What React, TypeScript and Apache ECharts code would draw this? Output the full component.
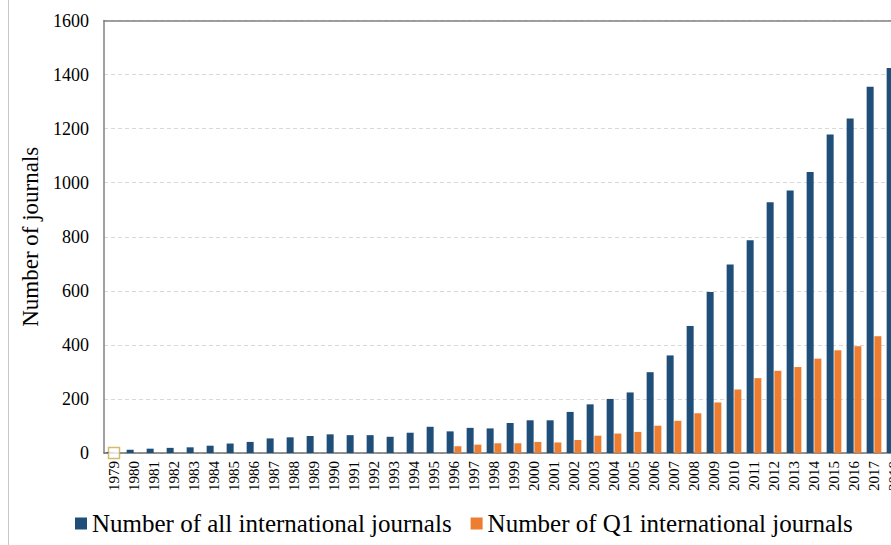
import React, { useEffect, useRef } from "react";
import * as echarts from "echarts";

const years: string[] = [
  "1979","1980","1981","1982","1983","1984","1985","1986","1987","1988",
  "1989","1990","1991","1992","1993","1994","1995","1996","1997","1998",
  "1999","2000","2001","2002","2003","2004","2005","2006","2007","2008",
  "2009","2010","2011","2012","2013","2014","2015","2016","2017","2018",
];

const allJournals: number[] = [
  4, 12, 16, 19, 21, 27, 35, 41, 54, 58,
  63, 69, 66, 66, 60, 75, 97, 80, 93, 91,
  111, 121, 121, 152, 180, 200, 224, 299, 361, 470,
  596, 697, 787, 928, 971, 1040, 1178, 1237, 1355, 1424,
];

const q1Journals: (number | null)[] = [
  null, null, null, null, null, null, null, null, null, null,
  null, null, null, null, null, null, null, 25, 31, 36,
  36, 41, 39, 48, 64, 72, 78, 101, 119, 147,
  187, 235, 277, 304, 318, 349, 380, 395, 432, 460,
];

const yTicks = { min: 0, max: 1600, interval: 200 };

const FONT = "'Liberation Serif', 'Times New Roman', serif";

const CHART_W = 920;

export default function App() {
  const ref = useRef<HTMLDivElement>(null);
  useEffect(() => {
    if (!ref.current) return;
    const chart = echarts.init(ref.current, undefined, { renderer: "svg" });
    chart.setOption({
      animation: false,
      backgroundColor: "#ffffff",
      graphic: [
        {
          type: "line",
          shape: { x1: 8.5, y1: 0, x2: 8.5, y2: 545 },
          style: { stroke: "#c8c8c8", lineWidth: 1 },
          silent: true,
        },
      ],
      grid: {
        left: 104,
        top: 20.5,
        right: CHART_W - 904,
        bottom: 92,
        show: false,
      },
      legend: {
        data: ["Number of all international journals", "Number of Q1 international journals"],
        left: 70,
        top: 506,
        icon: "rect",
        itemWidth: 12,
        itemHeight: 12,
        itemGap: 19,
        textStyle: { fontFamily: FONT, fontSize: 25, color: "#000" },
      },
      xAxis: [
        {
          type: "category",
          data: years,
          axisLine: { lineStyle: { color: "#6f6f6f", width: 1.5 } },
          axisTick: { show: false },
          axisLabel: {
            rotate: 90,
            interval: 0,
            fontFamily: FONT,
            fontSize: 15,
            color: "#000",
            margin: 8,
          },
        },
        {
          type: "category",
          data: years,
          position: "top",
          axisLine: { show: true, lineStyle: { color: "#808080", width: 1.5 } },
          axisTick: { show: false },
          axisLabel: { show: false },
          splitLine: { show: false },
        },
      ],
      yAxis: {
        type: "value",
        min: yTicks.min,
        max: yTicks.max,
        interval: yTicks.interval,
        name: "Number of journals",
        nameLocation: "middle",
        nameRotate: 90,
        nameGap: 57,
        nameTextStyle: { fontFamily: FONT, fontSize: 23, color: "#000" },
        axisLine: { show: true, lineStyle: { color: "#808080", width: 1.5 } },
        axisTick: { show: false },
        axisLabel: {
          fontFamily: FONT,
          fontSize: 18,
          color: "#000",
          margin: 15,
          formatter: (v: number) => String(v),
        },
        splitLine: { lineStyle: { color: "#d9d9d9", type: [4, 3], width: 1 } },
      },
      series: [
        {
          name: "Number of all international journals",
          type: "bar",
          data: allJournals,
          barWidth: 7,
          barGap: "10%",
          itemStyle: { color: "#1F4E79" },
        },
        {
          name: "Number of Q1 international journals",
          type: "bar",
          data: q1Journals,
          barWidth: 7,
          barGap: "10%",
          itemStyle: { color: "#ED7D31" },
        },
        {
          name: "marker",
          type: "scatter",
          data: [["1979", 0]],
          symbol: "rect",
          symbolSize: 11,
          itemStyle: { color: "#ffffff", borderColor: "#C9A94A", borderWidth: 1.5 },
          z: 5,
        },
      ],
    });
    return () => chart.dispose();
  }, []);
  return (
    <div
      style={{ position: "fixed", left: 0, top: 0, width: 891, height: 545, overflow: "hidden", background: "#fff" }}
    >
      <div ref={ref} style={{ width: CHART_W, height: 545 }} />
    </div>
  );
}
